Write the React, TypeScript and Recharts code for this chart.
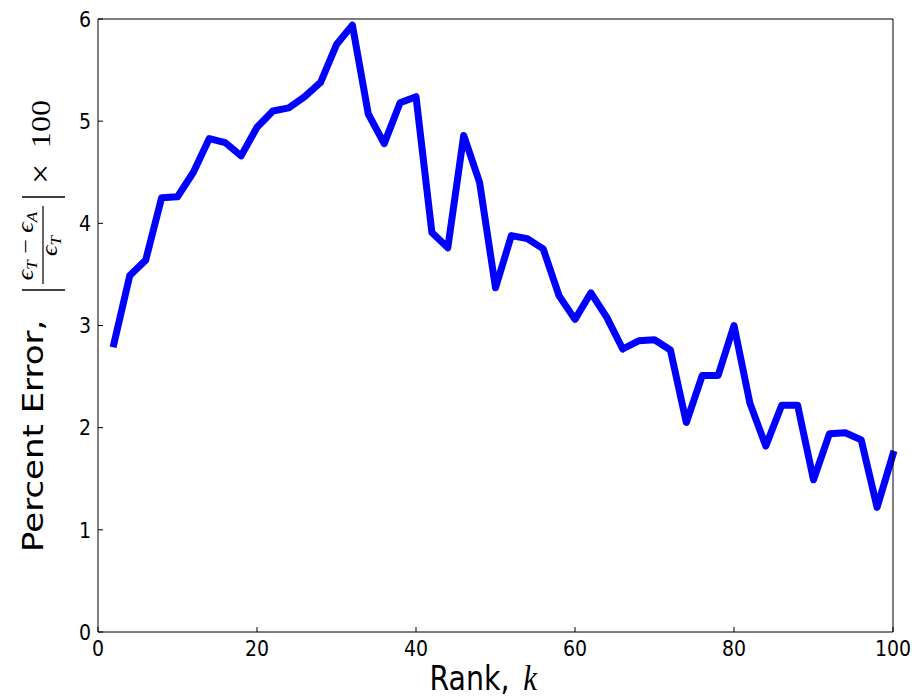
import { Line, LineChart, XAxis, YAxis } from "recharts";

const ranks = [
  2, 4, 6, 8, 10, 12, 14, 16, 18, 20, 22, 24, 26, 28, 30, 32, 34, 36, 38, 40, 42, 44, 46, 48, 50,
  52, 54, 56, 58, 60, 62, 64, 66, 68, 70, 72, 74, 76, 78, 80, 82, 84, 86, 88, 90, 92, 94, 96, 98, 100,
];
const percentError = [
  2.82, 3.49, 3.64, 4.25, 4.26, 4.5, 4.83, 4.79, 4.66, 4.94, 5.1, 5.13, 5.24, 5.38, 5.75, 5.94, 5.07,
  4.78, 5.18, 5.24, 3.91, 3.76, 4.86, 4.4, 3.37, 3.88, 3.85, 3.75, 3.29, 3.06, 3.32, 3.08, 2.77, 2.85,
  2.86, 2.76, 2.05, 2.51, 2.51, 3.0, 2.24, 1.82, 2.22, 2.22, 1.49, 1.94, 1.95, 1.88, 1.22, 1.74,
];
const xTicks = [0, 20, 40, 60, 80, 100];
const yTicks = [0, 1, 2, 3, 4, 5, 6];

const data = ranks.map((k, i) => ({ k, err: percentError[i] }));

// the reference is squeezed a bit horizontally, so text gets the same squeeze
const SQUEEZE = 0.86;
const SANS = "DejaVu Sans";
const SERIF = "'Liberation Serif', 'DejaVu Serif', serif";

function BottomTick({ x, y, payload }: any) {
  return (
    <g transform={`translate(${x},${y}) scale(${SQUEEZE},1)`}>
      <text x={0} y={0} dy="0.71em" textAnchor="middle" fontFamily={SANS} fontSize={22} fill="#000">
        {payload.value}
      </text>
    </g>
  );
}

function LeftTick({ x, y, payload }: any) {
  return (
    <g transform={`translate(${x},${y}) scale(${SQUEEZE},1)`}>
      <text x={0} y={0} dy="0.355em" textAnchor="end" fontFamily={SANS} fontSize={22} fill="#000">
        {payload.value}
      </text>
    </g>
  );
}

function RankLabel({ viewBox }: any) {
  const cx = viewBox ? viewBox.x + viewBox.width / 2 : 495;
  const by = viewBox ? viewBox.y + 58 : 690;
  return (
    <g transform={`translate(${cx - 66},${by}) scale(${SQUEEZE},1)`}>
      <text x={0} y={0} fontFamily={SANS} fontSize={33} fill="#000">
        Rank,
      </text>
      <text x={109} y={0} fontFamily={SERIF} fontStyle="italic" fontSize={36} fill="#000">
        k
      </text>
    </g>
  );
}

// rotated label: local x runs up the page, local y runs right (squeezed)
function ErrorLabel({ viewBox }: any) {
  const bottom = viewBox ? viewBox.y + 533 : 552;
  const ly = (px: number) => px / SQUEEZE;
  const fracMid = 306;
  return (
    <g transform={`translate(0,${bottom}) rotate(-90) scale(1,${SQUEEZE})`} fill="#000">
      <text x={0} y={ly(43)} fontFamily={SANS} fontSize={34}>
        Percent Error,
      </text>
      <line x1={262} x2={262} y1={ly(22)} y2={ly(65)} stroke="#000" strokeWidth={1.6} />
      <text x={fracMid} y={ly(33)} textAnchor="middle" fontFamily={SERIF} fontSize={26}>
        <tspan fontStyle="italic">ϵ</tspan>
        <tspan fontStyle="italic" fontSize={17} dy={5}>T</tspan>
        <tspan dy={-5}> − </tspan>
        <tspan fontStyle="italic">ϵ</tspan>
        <tspan fontStyle="italic" fontSize={17} dy={5}>A</tspan>
      </text>
      <line x1={268} x2={346} y1={ly(43)} y2={ly(43)} stroke="#000" strokeWidth={1.4} />
      <text x={fracMid} y={ly(57)} textAnchor="middle" fontFamily={SERIF} fontSize={26}>
        <tspan fontStyle="italic">ϵ</tspan>
        <tspan fontStyle="italic" fontSize={17} dy={5}>T</tspan>
      </text>
      <line x1={355} x2={355} y1={ly(22)} y2={ly(65)} stroke="#000" strokeWidth={1.6} />
      <text x={368} y={ly(51)} fontFamily={SERIF} fontSize={36}>
        ×
      </text>
      <text x={404} y={ly(50)} fontFamily={SERIF} fontSize={32}>
        100
      </text>
    </g>
  );
}

export default function App() {
  return (
    <div style={{ position: "absolute", left: 0, top: 0, width: 919, height: 698, background: "#fff" }}>
      <LineChart width={919} height={698} data={data} margin={{ top: 0, right: 0, bottom: 0, left: 0 }}>
        <XAxis
          dataKey="k"
          type="number"
          domain={[0, 100]}
          ticks={xTicks}
          height={66}
          tickSize={-5}
          tickMargin={13}
          tick={<BottomTick />}
          axisLine={{ stroke: "#000", strokeWidth: 1 }}
          tickLine={{ stroke: "#000", strokeWidth: 1 }}
          label={<RankLabel />}
        />
        <XAxis
          xAxisId="top"
          orientation="top"
          dataKey="k"
          type="number"
          domain={[0, 100]}
          ticks={xTicks}
          height={19}
          tickSize={-5}
          tick={false}
          axisLine={{ stroke: "#000", strokeWidth: 1 }}
          tickLine={{ stroke: "#000", strokeWidth: 1 }}
        />
        <YAxis
          type="number"
          domain={[0, 6]}
          ticks={yTicks}
          width={98}
          tickSize={-5}
          tickMargin={12}
          tick={<LeftTick />}
          axisLine={{ stroke: "#000", strokeWidth: 1 }}
          tickLine={{ stroke: "#000", strokeWidth: 1 }}
          label={<ErrorLabel />}
        />
        <YAxis
          yAxisId="right"
          orientation="right"
          type="number"
          domain={[0, 6]}
          ticks={yTicks}
          width={26}
          tickSize={-5}
          tick={false}
          axisLine={{ stroke: "#000", strokeWidth: 1 }}
          tickLine={{ stroke: "#000", strokeWidth: 1 }}
        />
        <Line
          dataKey="err"
          type="linear"
          stroke="#0000ff"
          strokeWidth={7}
          strokeLinejoin="round"
          strokeLinecap="square"
          dot={false}
          activeDot={false}
          isAnimationActive={false}
        />
      </LineChart>
    </div>
  );
}
